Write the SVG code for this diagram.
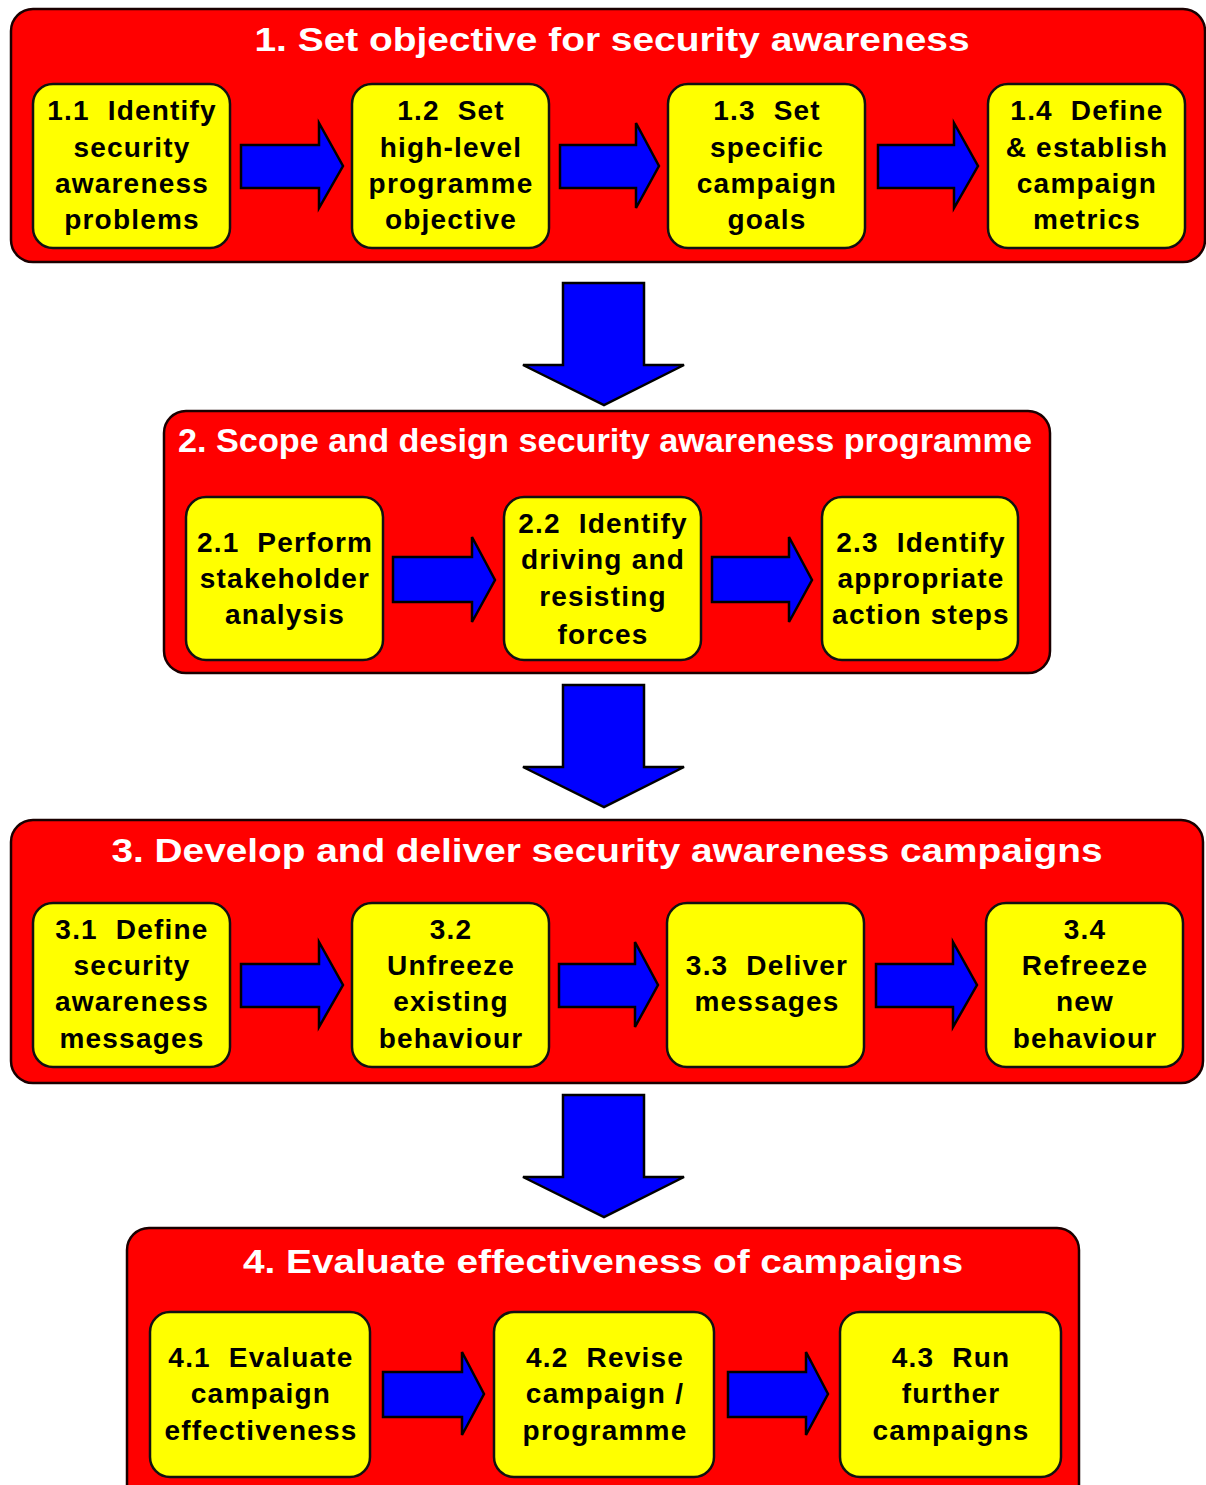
<svg xmlns="http://www.w3.org/2000/svg" width="1206" height="1485" viewBox="0 0 1206 1485">
<style>
.panel{fill:#ff0000;stroke:#1a0000;stroke-width:2.5}
.box{fill:#ffff00;stroke:#111;stroke-width:2.5}
.arrow{fill:#0000ff;stroke:#000;stroke-width:2.5;stroke-linejoin:miter}
.title{font-family:"Liberation Sans",Arial,sans-serif;font-weight:bold;font-size:33px;fill:#ffffff;text-anchor:middle}
.lbl{font-family:"Liberation Sans",Arial,sans-serif;font-weight:bold;font-size:28px;fill:#000;text-anchor:middle;letter-spacing:1.2px}
</style>
<rect width="1206" height="1485" fill="#ffffff"/>

<g id="phase1">
<rect class="panel" x="11" y="9" width="1194" height="253" rx="22"/>
<text class="title" x="612" y="51" textLength="715" lengthAdjust="spacingAndGlyphs">1. Set objective for security awareness</text>
</g>
<g id="n1_1"><rect class="box" x="33" y="84" width="197" height="164" rx="20"/>
<text class="lbl" x="132" y="120">1.1&#160; Identify</text><text class="lbl" x="132" y="157">security</text><text class="lbl" x="132" y="193">awareness</text><text class="lbl" x="132" y="229">problems</text></g>
<g id="n1_2"><rect class="box" x="352" y="84" width="197" height="164" rx="20"/>
<text class="lbl" x="451" y="120">1.2&#160; Set</text><text class="lbl" x="451" y="157">high-level</text><text class="lbl" x="451" y="193">programme</text><text class="lbl" x="451" y="229">objective</text></g>
<g id="n1_3"><rect class="box" x="668" y="84" width="197" height="164" rx="20"/>
<text class="lbl" x="767" y="120">1.3&#160; Set</text><text class="lbl" x="767" y="157">specific</text><text class="lbl" x="767" y="193">campaign</text><text class="lbl" x="767" y="229">goals</text></g>
<g id="n1_4"><rect class="box" x="988" y="84" width="197" height="164" rx="20"/>
<text class="lbl" x="1087" y="120">1.4&#160; Define</text><text class="lbl" x="1087" y="157">&amp; establish</text><text class="lbl" x="1087" y="193">campaign</text><text class="lbl" x="1087" y="229">metrics</text></g>

<g id="phase2">
<rect class="panel" x="164" y="411" width="886" height="262" rx="22"/>
<text class="title" x="605" y="452" textLength="854" lengthAdjust="spacingAndGlyphs">2. Scope and design security awareness programme</text>
</g>
<g id="n2_1"><rect class="box" x="186" y="497" width="197" height="163" rx="20"/>
<text class="lbl" x="285" y="552">2.1&#160; Perform</text><text class="lbl" x="285" y="588">stakeholder</text><text class="lbl" x="285" y="624">analysis</text></g>
<g id="n2_2"><rect class="box" x="504" y="497" width="197" height="163" rx="20"/>
<text class="lbl" x="603" y="533">2.2&#160; Identify</text><text class="lbl" x="603" y="569">driving and</text><text class="lbl" x="603" y="606">resisting</text><text class="lbl" x="603" y="644">forces</text></g>
<g id="n2_3"><rect class="box" x="822" y="497" width="196" height="163" rx="20"/>
<text class="lbl" x="921" y="552">2.3&#160; Identify</text><text class="lbl" x="921" y="588">appropriate</text><text class="lbl" x="921" y="624">action&#160;steps</text></g>

<g id="phase3">
<rect class="panel" x="11" y="820" width="1192" height="263" rx="22"/>
<text class="title" x="607" y="862" textLength="991" lengthAdjust="spacingAndGlyphs">3. Develop and deliver security awareness campaigns</text>
</g>
<g id="n3_1"><rect class="box" x="33" y="903" width="197" height="164" rx="20"/>
<text class="lbl" x="132" y="939">3.1&#160; Define</text><text class="lbl" x="132" y="975">security</text><text class="lbl" x="132" y="1011">awareness</text><text class="lbl" x="132" y="1048">messages</text></g>
<g id="n3_2"><rect class="box" x="352" y="903" width="197" height="164" rx="20"/>
<text class="lbl" x="451" y="939">3.2</text><text class="lbl" x="451" y="975">Unfreeze</text><text class="lbl" x="451" y="1011">existing</text><text class="lbl" x="451" y="1048">behaviour</text></g>
<g id="n3_3"><rect class="box" x="667" y="903" width="197" height="164" rx="20"/>
<text class="lbl" x="767" y="975">3.3&#160; Deliver</text><text class="lbl" x="767" y="1011">messages</text></g>
<g id="n3_4"><rect class="box" x="986" y="903" width="197" height="164" rx="20"/>
<text class="lbl" x="1085" y="939">3.4</text><text class="lbl" x="1085" y="975">Refreeze</text><text class="lbl" x="1085" y="1011">new</text><text class="lbl" x="1085" y="1048">behaviour</text></g>

<g id="phase4">
<rect class="panel" x="127" y="1228" width="952" height="280" rx="22"/>
<text class="title" x="603" y="1273" textLength="720" lengthAdjust="spacingAndGlyphs">4. Evaluate effectiveness of campaigns</text>
</g>
<g id="n4_1"><rect class="box" x="150" y="1312" width="220" height="165" rx="20"/>
<text class="lbl" x="261" y="1367">4.1&#160; Evaluate</text><text class="lbl" x="261" y="1403">campaign</text><text class="lbl" x="261" y="1440">effectiveness</text></g>
<g id="n4_2"><rect class="box" x="494" y="1312" width="220" height="165" rx="20"/>
<text class="lbl" x="605" y="1367">4.2&#160; Revise</text><text class="lbl" x="605" y="1403">campaign /</text><text class="lbl" x="605" y="1440">programme</text></g>
<g id="n4_3"><rect class="box" x="840" y="1312" width="221" height="165" rx="20"/>
<text class="lbl" x="951" y="1367">4.3&#160; Run</text><text class="lbl" x="951" y="1403">further</text><text class="lbl" x="951" y="1440">campaigns</text></g>

<g id="connectors">
<path class="arrow" d="M241 145H319V123L343 166L319 208V188H241Z"/>
<path class="arrow" d="M560 145H636V123L659 166L636 208V188H560Z"/>
<path class="arrow" d="M878 145H954V123L978 166L954 208V188H878Z"/>
<path class="arrow" d="M563 283H644V365H684L604 405L523 365H563Z"/>
<path class="arrow" d="M393 557H472V537L495 580L472 622V602H393Z"/>
<path class="arrow" d="M712 557H789V537L812 580L789 622V602H712Z"/>
<path class="arrow" d="M563 685H644V767H684L604 807L523 767H563Z"/>
<path class="arrow" d="M241 964H319V942L343 985L319 1027V1007H241Z"/>
<path class="arrow" d="M559 964H635V942L658 985L635 1027V1007H559Z"/>
<path class="arrow" d="M876 964H953V942L977 985L953 1027V1007H876Z"/>
<path class="arrow" d="M563 1095H644V1177H684L604 1217L523 1177H563Z"/>
<path class="arrow" d="M383 1372H462V1352L484 1394L462 1435V1417H383Z"/>
<path class="arrow" d="M728 1372H806V1352L828 1394L806 1435V1417H728Z"/>
</g>
</svg>
